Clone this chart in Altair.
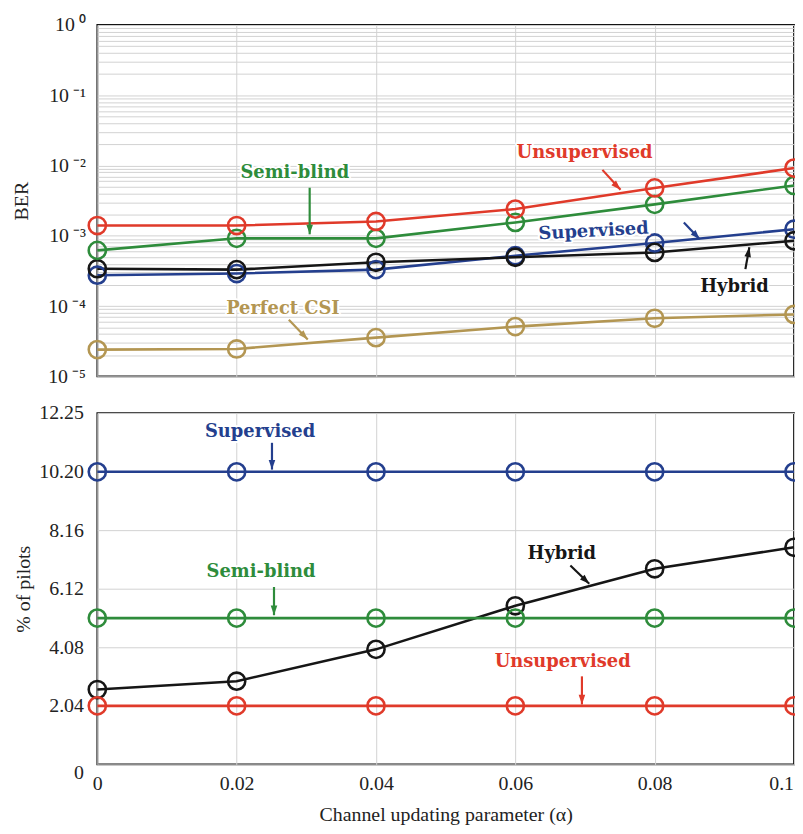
import altair as alt
import pandas as pd

# ---------------- data ----------------
alpha = [0, 0.02, 0.04, 0.06, 0.08, 0.1]
methods = ["Perfect CSI", "Supervised", "Hybrid", "Semi-blind", "Unsupervised"]
colors = ["#b39652", "#243f8e", "#161616", "#2e8c3b", "#e03a2a"]

ber_unsup = [1.4e-3, 1.4e-3, 1.6e-3, 2.4e-3, 4.8e-3, 9.2e-3]
ber_semi = [6.2e-4, 9.2e-4, 9.2e-4, 1.55e-3, 2.8e-3, 5.2e-3]
ber_sup = [2.75e-4, 2.9e-4, 3.3e-4, 5.2e-4, 7.9e-4, 1.24e-3]
ber_hyb = [3.4e-4, 3.3e-4, 4.2e-4, 4.95e-4, 5.8e-4, 8.5e-4]
ber_csi = [2.4e-5, 2.45e-5, 3.55e-5, 5.1e-5, 6.7e-5, 7.6e-5]

pil_unsup = [2.04, 2.04, 2.04, 2.04, 2.04, 2.04]
pil_semi = [5.10, 5.10, 5.10, 5.10, 5.10, 5.10]
pil_sup = [10.20, 10.20, 10.20, 10.20, 10.20, 10.20]
pil_hyb = [2.61, 2.90, 4.01, 5.53, 6.82, 7.57]

ber_ticks = [1e-5, 1e-4, 1e-3, 1e-2, 1e-1, 1]
ber_grid = [k * d for d in [1e-5, 1e-4, 1e-3, 1e-2, 1e-1] for k in range(1, 10)] + [1]
pil_ticks = [0, 2.04, 4.08, 6.12, 8.16, 10.20, 12.25]

# annotations (top panel)
top_lab = ["Semi-blind", "Unsupervised", "Supervised", "Hybrid", "Perfect CSI"]
top_lab_x = [0.02835, 0.06994, 0.07123, 0.09145, 0.02664]
top_lab_y = [7.86e-3, 1.507e-2, 1.15e-3, 1.87e-4, 9.12e-5]
top_lab_ang = [0, 0, 357, 0, 0]
top_lab_col = ["#2e8c3b", "#e03a2a", "#243f8e", "#161616", "#b39652"]
top_arr_x = [0.03048, 0.0725, 0.08419, 0.09302, 0.02749]
top_arr_y = [4.83e-3, 8.67e-3, 1.545e-3, 3.35e-4, 6.38e-5]
top_arr_x2 = [0.03048, 0.0751, 0.08647, 0.09359, 0.0302]
top_arr_y2 = [1.05e-3, 4.52e-3, 8.9e-4, 6.86e-4, 3.33e-5]
top_arr_head = [180, 135, 137, 10, 137]

# annotations (bottom panel)
bot_lab = ["Supervised", "Semi-blind", "Hybrid", "Unsupervised"]
bot_lab_x = [0.02336, 0.0235, 0.06667, 0.0668]
bot_lab_y = [11.603, 6.703, 7.336, 3.564]
bot_lab_col = ["#243f8e", "#2e8c3b", "#161616", "#e03a2a"]
bot_arr_x = [0.02507, 0.02536, 0.0679, 0.06956]
bot_arr_y = [11.212, 6.184, 6.931, 3.069]
bot_arr_x2 = [0.02507, 0.02536, 0.07061, 0.06956]
bot_arr_y2 = [10.278, 5.201, 6.298, 2.087]
bot_arr_head = [180, 180, 134, 180]

# ---------------- tables ----------------
ber_series = {"Unsupervised": ber_unsup, "Semi-blind": ber_semi, "Supervised": ber_sup,
              "Hybrid": ber_hyb, "Perfect CSI": ber_csi}
pil_series = {"Unsupervised": pil_unsup, "Semi-blind": pil_semi, "Supervised": pil_sup,
              "Hybrid": pil_hyb}

ber_df = pd.DataFrame([{"alpha": a, "v": v, "m": m, "o": methods.index(m)}
                       for m in methods if m in ber_series
                       for a, v in zip(alpha, ber_series[m])])
pil_df = pd.DataFrame([{"alpha": a, "v": v, "m": m, "o": methods.index(m)}
                       for m in methods if m in pil_series
                       for a, v in zip(alpha, pil_series[m])])

top_text = pd.DataFrame({"t": top_lab, "x": top_lab_x, "y": top_lab_y,
                         "ang": top_lab_ang, "c": top_lab_col})
top_arr = pd.DataFrame({"x": top_arr_x, "y": top_arr_y, "x2": top_arr_x2,
                        "y2": top_arr_y2, "h": top_arr_head, "c": top_lab_col})
bot_text = pd.DataFrame({"t": bot_lab, "x": bot_lab_x, "y": bot_lab_y,
                         "ang": [0] * len(bot_lab), "c": bot_lab_col})
bot_arr = pd.DataFrame({"x": bot_arr_x, "y": bot_arr_y, "x2": bot_arr_x2,
                        "y2": bot_arr_y2, "h": bot_arr_head, "c": bot_lab_col})

# ---------------- styling ----------------
SERIF = "Liberation Serif"
ANN_FONT = "DejaVu Serif"
W, H = 702, 354
HEAD = "M0,0L-0.34,1L0.34,1Z"

color_scale = alt.Scale(domain=methods, range=colors)
xscale = alt.Scale(domain=[0, 0.1], nice=False, zero=False)

sup = {0: "\u2070", -1: "\u207b\u00b9", -2: "\u207b\u00b2", -3: "\u207b\u00b3",
       -4: "\u207b\u2074", -5: "\u207b\u2075"}
e = "round(log(datum.value)/LN10)"
inner = "''"
for k, s in sup.items():
    inner = f"({e} == {k} ? '10\u2009{s}' : {inner})"
ber_label_expr = f"abs(log(datum.value)/LN10 - {e}) < 0.001 ? {inner} : ''"


def panel(df, tdf, adf, yscale, yaxis, xaxis):
    x = alt.X("alpha:Q", scale=xscale, axis=xaxis)
    y = alt.Y("v:Q", scale=yscale, axis=yaxis)
    col = alt.Color("m:N", scale=color_scale, legend=None)
    lines = alt.Chart(df).mark_line(strokeWidth=2.6).encode(
        x=x, y=y, color=col, detail="m:N", order="alpha:Q")
    pts = alt.Chart(df).mark_point(filled=False, size=300, strokeWidth=2.6,
                                   opacity=1).encode(x=x, y=y, color=col,
                                                     order="o:Q")
    ax = alt.X("x:Q", scale=xscale)
    ay = alt.Y("y:Q", scale=yscale)
    rules = alt.Chart(adf).mark_rule(strokeWidth=2.2).encode(
        x=ax, y=ay, x2="x2:Q", y2="y2:Q", color=alt.Color("c:N", scale=None))
    heads = alt.Chart(adf).mark_point(shape=HEAD, filled=True, size=380,
                                      opacity=1, strokeWidth=0).encode(
        x=alt.X("x2:Q", scale=xscale), y=alt.Y("y2:Q", scale=yscale),
        angle=alt.Angle("h:Q", scale=None), color=alt.Color("c:N", scale=None))
    halo = alt.Chart(tdf).mark_text(font=ANN_FONT, fontWeight="bold", fontSize=18,
                                    stroke="white", strokeWidth=4, fill="white",
                                    strokeJoin="round").encode(
        x=ax, y=ay, text="t:N", angle=alt.Angle("ang:Q", scale=None))
    txt = alt.Chart(tdf).mark_text(font=ANN_FONT, fontWeight="bold",
                                   fontSize=18).encode(
        x=ax, y=ay, text="t:N", angle=alt.Angle("ang:Q", scale=None),
        color=alt.Color("c:N", scale=None))
    return alt.layer(lines, pts, rules, heads, halo, txt).properties(width=W, height=H)


top_yaxis = alt.Axis(values=ber_grid, labelExpr=ber_label_expr, grid=True,
                     ticks=False, labelOverlap=False, title="BER",
                     labelPadding=12, titleX=-76, titleBaseline="middle")
top_xaxis = alt.Axis(values=alpha, grid=True, labels=False, ticks=False,
                     title=None, domain=False)
bot_yaxis = alt.Axis(values=pil_ticks,
                     labelExpr="datum.value == 0 ? '0' : format(datum.value, '.2f')",
                     labelOffset={"condition": {"test": "datum.value == 0", "value": 8},
                                  "value": 0},
                     grid=True, ticks=False, labelOverlap=False, title="% of pilots",
                     labelPadding=14, labelFlush=False, titleX=-74,
                     titleBaseline="middle")
bot_xaxis = alt.Axis(values=alpha, format="~f", grid=True, ticks=False,
                     labelOverlap=False, labelFlush=False,
                     labelOffset={"condition": {"test": "datum.value > 0.099", "value": -13},
                                  "value": 0},
                     title="Channel updating parameter (\u03b1)",
                     labelPadding=9, titlePadding=12)

top = panel(ber_df, top_text, top_arr,
            alt.Scale(type="log", domain=[1e-5, 1], nice=False), top_yaxis, top_xaxis)
bottom = panel(pil_df, bot_text, bot_arr,
               alt.Scale(domain=[0, 12.25], nice=False, zero=False), bot_yaxis, bot_xaxis)

chart = alt.vconcat(top, bottom, spacing=15).properties(
    padding={"left": 3, "top": 3, "right": -14, "bottom": 0}
).configure_view(stroke="#111111", strokeWidth=1.8).configure_axis(
    domain=False, gridColor="#d2d2d2", gridWidth=1, gridOpacity=1,
    labelFont=SERIF, labelFontSize=20, labelColor="#222222",
    titleFont=SERIF, titleFontSize=20, titleFontWeight="normal", titleColor="#222222"
)

chart.save("out.html", embed_options={"renderer": "svg", "actions": False})
